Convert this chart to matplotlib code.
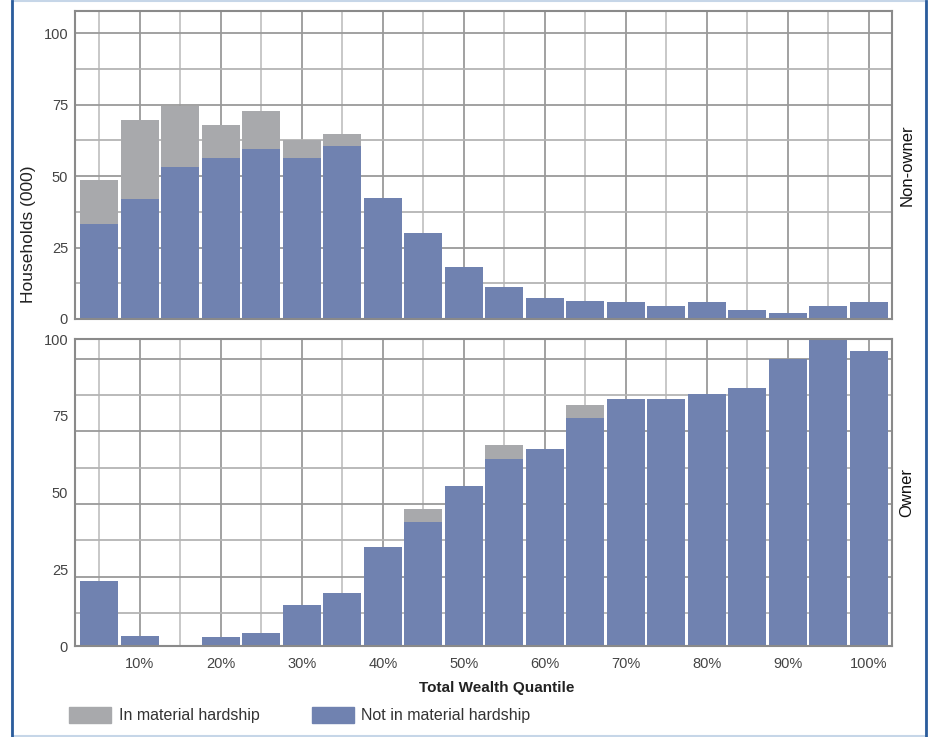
import matplotlib.pyplot as plt
from matplotlib.lines import Line2D
from matplotlib.patches import Patch, Rectangle

plt.rcParams['font.family'] = ['Liberation Sans Narrow', 'Liberation Sans', 'DejaVu Sans']

quantiles = [5, 10, 15, 20, 25, 30, 35, 40, 45, 50, 55, 60, 65, 70, 75, 80, 85, 90, 95, 100]
tick_pos = [10, 20, 30, 40, 50, 60, 70, 80, 90, 100]
tick_labels = ['10%', '20%', '30%', '40%', '50%', '60%', '70%', '80%', '90%', '100%']

# households (000) by total wealth quantile
nonowner_ok = [33.3, 42.1, 53.3, 56.4, 59.6, 56.4, 60.6, 42.4, 30.2, 18.3,
               11.3, 7.5, 6.4, 5.8, 4.4, 5.8, 3.3, 2.2, 4.4, 5.8]
nonowner_hard = [15.4, 27.6, 21.3, 11.4, 13.2, 6.2, 4.2, 0, 0, 0,
                 0, 0, 0, 0, 0, 0, 0, 0, 0, 0]
owner_ok = [21.1, 3.3, 0, 2.9, 4.1, 13.3, 17.2, 32.2, 40.4, 52.1,
            60.9, 64.2, 74.3, 80.5, 80.5, 82.2, 84.1, 93.6, 100.1, 96.2]
owner_hard = [0, 0, 0, 0, 0, 0, 0, 0, 4.2, 0,
              4.6, 0, 4.3, 0, 0, 0, 0, 0, 0, 0]

blue = '#7082b0'
grey = '#a8a9ac'
W, H = 932, 737

fig = plt.figure(figsize=(W / 100, H / 100), dpi=100)

# border of the box
fig.add_artist(Rectangle((12 / W, 1 / H), 914 / W, 735 / H, transform=fig.transFigure,
                         fill=False, edgecolor='#c6d6e8', lw=1.5))
fig.add_artist(Line2D([12 / W, 12 / W], [1 / H, 736 / H], transform=fig.transFigure,
                      color='#2b5c9c', lw=2))
fig.add_artist(Line2D([926 / W, 926 / W], [1 / H, 736 / H], transform=fig.transFigure,
                      color='#2b5c9c', lw=2))

ax1 = fig.add_axes([75 / W, (H - 319) / H, 817 / W, 308 / H])
ax2 = fig.add_axes([75 / W, (H - 646) / H, 817 / W, 307 / H])

panels = [
    (ax1, nonowner_ok, nonowner_hard, 107.7, [12.5 * k for k in range(1, 9)], 'Non-owner'),
    (ax2, owner_ok, owner_hard, 100.1, [10.8 + 11.83 * k for k in range(8)], 'Owner'),
]

for ax, ok, hard, ytop, grid_y, label in panels:
    ax.bar(quantiles, ok, width=4.7, color=blue, zorder=3)
    ax.bar(quantiles, hard, width=4.7, bottom=ok, color=grey, zorder=3)
    ax.set_xlim(2.0, 102.85)
    ax.set_ylim(0, ytop)
    for gx in quantiles:
        ax.axvline(gx, color='#9a9a9a' if gx % 10 == 0 else '#c4c4c4', lw=1.3, zorder=1)
    for i, gy in enumerate(grid_y):
        ax.axhline(gy, color='#9a9a9a' if i % 2 == 1 else '#b4b4b4', lw=1.3, zorder=1)
    ax.set_yticks([0, 25, 50, 75, 100])
    ax.tick_params(axis='x', length=0, labelsize=10.5, labelcolor='#444444', pad=8)
    ax.tick_params(axis='y', length=0, labelsize=10.5, labelcolor='#444444', pad=5)
    for s in ax.spines.values():
        s.set_color('#8a8a8a')
        s.set_linewidth(1.5)
        s.set_zorder(4)
    ax.text(1.009, 0.5, label, transform=ax.transAxes, rotation=90,
            ha='left', va='center', fontsize=12, color='#111111')

ax1.set_xticks(tick_pos)
ax1.set_xticklabels([])
ax2.set_xticks(tick_pos)
ax2.set_xticklabels(tick_labels)

fig.text(29 / W, 1 - 234 / H, 'Households (000)', rotation=90, ha='center', va='center',
         fontsize=12.5, color='#222222')
fig.text(497 / W, 1 - 688 / H, 'Total Wealth Quantile', ha='center', va='center',
         fontsize=11, color='#222222', fontweight='bold')

handles = [Patch(color=grey, label='In material hardship'),
           Patch(color=blue, label='Not in material hardship')]
fig.legend(handles=handles, loc='center left', bbox_to_anchor=(69 / W, 1 - 715 / H),
           ncol=2, frameon=False, fontsize=11.5, handlelength=2.6, handleheight=1.2,
           handletextpad=0.5, columnspacing=3.3, borderpad=0, borderaxespad=0,
           labelcolor='#333333')

fig.savefig('out.png', dpi=100)
